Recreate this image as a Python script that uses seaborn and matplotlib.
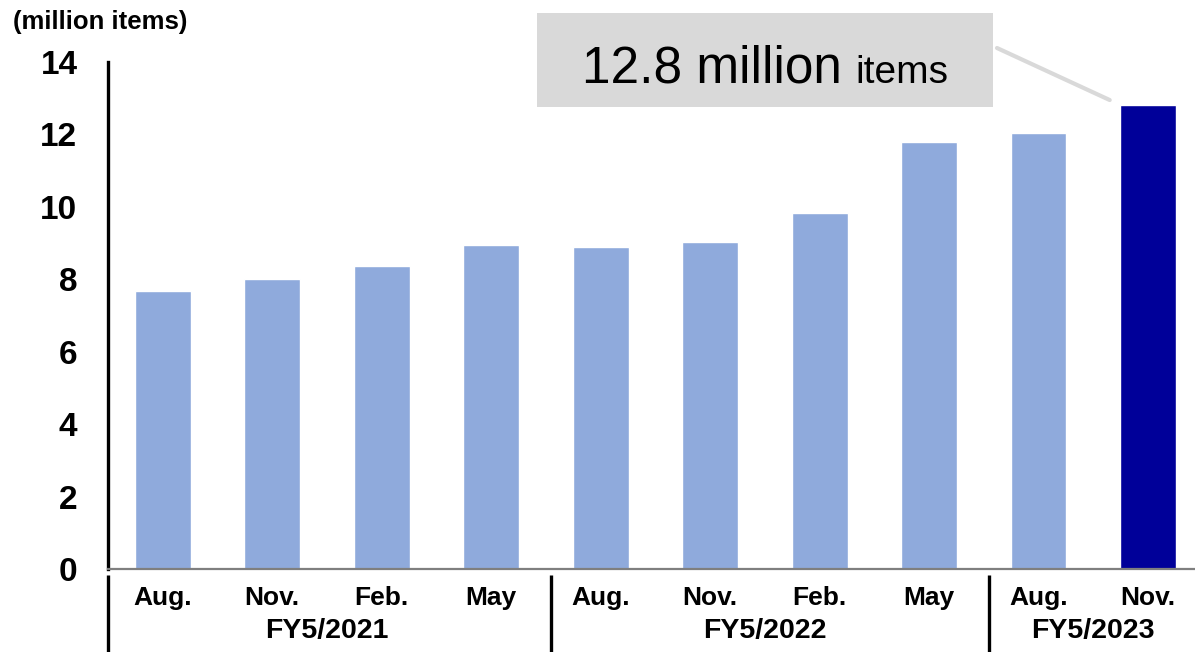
import matplotlib
matplotlib.use("Agg")
import matplotlib.pyplot as plt
from matplotlib import font_manager
import matplotlib.transforms as mtransforms
import seaborn as sns
import pandas as pd

# Cumulative listed items, quarter-end snapshots (million items)
months = ["Aug.", "Nov.", "Feb.", "May", "Aug.", "Nov.", "Feb.", "May", "Aug.", "Nov."]
fiscal_years = ["FY5/2021"] * 4 + ["FY5/2022"] * 4 + ["FY5/2023"] * 2
items = [7.68, 8.02, 8.36, 8.94, 8.90, 9.03, 9.83, 11.80, 12.04, 12.8]
y_ticks = [0, 2, 4, 6, 8, 10, 12, 14]
callout_value = "12.8"

LIGHT = "#8faadc"
DARK = "#000099"

sns.set_theme(style="white")
installed = {f.name for f in font_manager.fontManager.ttflist}
base_font = "Liberation Sans" if "Liberation Sans" in installed else "DejaVu Sans"
narrow_font = "Liberation Sans Narrow" if "Liberation Sans Narrow" in installed else base_font
plt.rcParams["font.family"] = [base_font, "DejaVu Sans"]
plt.rcParams["text.color"] = "black"
plt.rcParams["xtick.color"] = "black"
plt.rcParams["ytick.color"] = "black"

df = pd.DataFrame({
    "period": [f"{m} {fy}" for m, fy in zip(months, fiscal_years)],
    "items": items,
})
df["highlight"] = ["latest" if i == len(df) - 1 else "past" for i in range(len(df))]

fig = plt.figure(figsize=(11.95, 6.52), dpi=100)
ax = fig.add_axes([0.0904, 0.1273, 0.9161, 0.7776])

sns.barplot(data=df, x="period", y="items", hue="highlight",
            palette={"past": LIGHT, "latest": DARK}, width=0.51,
            dodge=False, legend=False, saturation=1, ax=ax)

ax.set_xlim(-0.5, len(df) - 0.5)
ax.set_ylim(0, 14)
ax.set_yticks(y_ticks)
ax.set_yticklabels([str(t) for t in y_ticks], fontsize=24, fontweight="bold")
ax.set_xticks(range(len(df)))
ax.set_xticklabels(months, fontsize=19, fontweight="bold")
ax.tick_params(axis="both", length=0)
ax.tick_params(axis="y", pad=22)
ax.tick_params(axis="x", pad=12)
ax.set_xlabel("")
ax.set_ylabel("")

for side in ["top", "right"]:
    ax.spines[side].set_visible(False)
ax.spines["left"].set_color("black")
ax.spines["left"].set_linewidth(2.4)
ax.spines["bottom"].set_color("#7f7f7f")
ax.spines["bottom"].set_linewidth(1.6)

# Fiscal-year group labels and separators below the axis
trans = mtransforms.blended_transform_factory(ax.transData, ax.transAxes)
groups = []
for i, fy in enumerate(fiscal_years):
    if not groups or groups[-1][0] != fy:
        groups.append([fy, i, i])
    else:
        groups[-1][2] = i
for fy, start, end in groups:
    ax.text((start + end) / 2, -0.122, fy, transform=trans, ha="center", va="center",
            fontsize=20.5, fontweight="bold")
boundaries = [-0.5] + [end + 0.55 for _, _, end in groups[:-1]]
for b in boundaries:
    ax.plot([b, b], [-0.012, -0.17], transform=trans, color="black",
            linewidth=2.4, clip_on=False, solid_capstyle="butt")

# Unit label
fig.text(0.011, 0.966, "(million items)", ha="left", va="center",
         fontsize=18.5, fontweight="bold")

# Call-out box for the latest value
box_ax = fig.add_axes([537 / 1195, 1 - 107 / 652, (993 - 537) / 1195, (107 - 13) / 652])
box_ax.set_facecolor("#d9d9d9")
box_ax.set_xticks([])
box_ax.set_yticks([])
for s in box_ax.spines.values():
    s.set_visible(False)
big = box_ax.text(0.099, 0.26, f"{callout_value} million", transform=box_ax.transAxes,
                  ha="left", va="baseline", fontsize=37, family=[narrow_font, "DejaVu Sans"])
fig.canvas.draw()
bb = big.get_window_extent()
x_end = box_ax.transAxes.inverted().transform((bb.x1, bb.y0))[0]
box_ax.text(x_end + 0.03, 0.26, "items", transform=box_ax.transAxes, ha="left",
            va="baseline", fontsize=28, family=[narrow_font, "DejaVu Sans"])

# Leader line from the box to the latest bar
last = len(df) - 1
leader_start = fig.transFigure.inverted().transform((997, 652 - 48))
leader_end_disp = ax.transData.transform((last - 0.35, items[-1] + 0.15))
leader_end = fig.transFigure.inverted().transform(leader_end_disp)
fig.add_artist(plt.Line2D([leader_start[0], leader_end[0]], [leader_start[1], leader_end[1]],
                          transform=fig.transFigure, color="#d9d9d9", linewidth=3))

fig.savefig("out.png", dpi=100)
